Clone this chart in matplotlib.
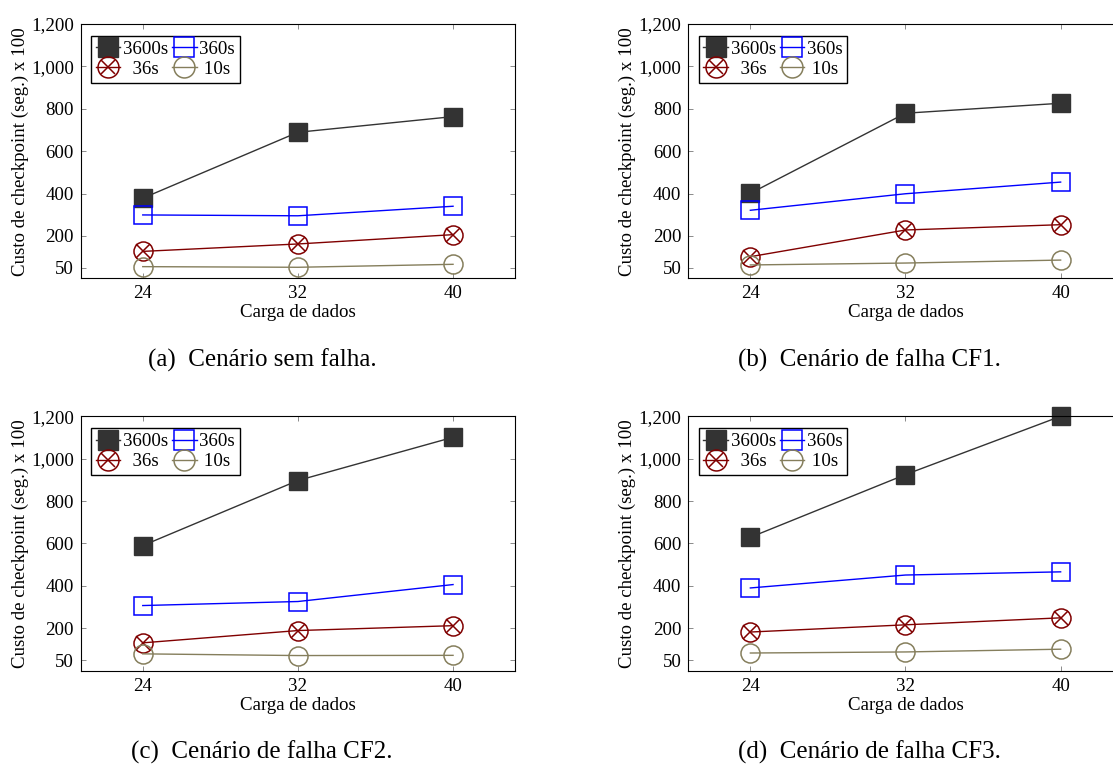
import matplotlib.pyplot as plt
from matplotlib.legend_handler import HandlerTuple
from matplotlib.ticker import FuncFormatter

plt.rcParams["font.family"] = ["Liberation Serif", "DejaVu Serif"]

carga = [24, 32, 40]
yticks = [50, 200, 400, 600, 800, 1000, 1200]
labels = ["3600s", "360s", "36s", "10s"]

# (a) Cenário sem falha
a_3600 = [378, 689, 763]
a_360 = [299, 295, 340]
a_36 = [127, 162, 206]
a_10 = [55, 52, 66]

# (b) Cenário de falha CF1
b_3600 = [401, 779, 826]
b_360 = [321, 399, 454]
b_36 = [102, 228, 253]
b_10 = [63, 72, 86]

# (c) Cenário de falha CF2
c_3600 = [590, 897, 1101]
c_360 = [307, 326, 406]
c_36 = [131, 189, 212]
c_10 = [79, 71, 72]

# (d) Cenário de falha CF3
d_3600 = [629, 925, 1200]
d_360 = [390, 451, 466]
d_36 = [182, 216, 249]
d_10 = [83, 88, 101]

captions = [
    "(a)  Cenário sem falha.",
    "(b)  Cenário de falha CF1.",
    "(c)  Cenário de falha CF2.",
    "(d)  Cenário de falha CF3.",
]

GRAY = "#333333"
BLUE = "#0000ff"
RED = "#800000"
OLIVE = "#857e5c"
FS = 13.6


def plot_panel(ax, s3600, s360, s36, s10):
    """
    draw one panel with the four checkpoint intervals
    """
    h1, = ax.plot(carga, s3600, color=GRAY, lw=1.0, marker="s", ms=12.6,
                  mfc=GRAY, mec=GRAY, clip_on=False)
    h2, = ax.plot(carga, s360, color=BLUE, lw=1.0, marker="s", ms=12.6,
                  mfc="none", mec=BLUE, mew=1.1, clip_on=False)
    h3a, = ax.plot(carga, s36, color=RED, lw=1.0, marker="o", ms=13.7,
                   mfc="none", mec=RED, mew=1.1, clip_on=False)
    h3b, = ax.plot(carga, s36, color=RED, ls="none", marker="x", ms=9.6,
                   mew=1.1, clip_on=False)
    h4, = ax.plot(carga, s10, color=OLIVE, lw=1.0, marker="o", ms=13.7,
                  mfc="none", mec=OLIVE, mew=1.1, clip_on=False)

    ax.set_xlim(20.8, 43.2)
    ax.set_ylim(0, 1200)
    ax.set_xticks(carga)
    ax.set_yticks(yticks)
    ax.yaxis.set_major_formatter(FuncFormatter(lambda v, p: f"{int(v):,}"))
    ax.tick_params(direction="in", length=3.6, width=0.6, color="#777777",
                   top=True, right=True, labelsize=FS, pad=5)
    for sp in ax.spines.values():
        sp.set_linewidth(0.8)
        sp.set_color("black")

    ax.set_xlabel("Carga de dados", fontsize=FS)
    ax.set_ylabel("Custo de checkpoint (seg.) x 100", fontsize=FS)
    ax.xaxis.set_label_coords(0.5, -0.103)
    ax.yaxis.set_label_coords(-0.120, 0.5)

    # ncol=2 fills by column, so order the handles for rows 3600s|360s, 36s|10s
    ax.legend([h1, (h3a, h3b), h2, h4],
              [labels[0], "  " + labels[2], labels[1], " " + labels[3]],
              handler_map={tuple: HandlerTuple(ndivide=1)},
              ncol=2, loc="upper left", bbox_to_anchor=(0.0237, 0.953),
              borderaxespad=0, fontsize=FS, fancybox=False, framealpha=1,
              edgecolor="black", borderpad=0.25, labelspacing=0.15,
              handlelength=1.3, handletextpad=0.15, columnspacing=0.2,
              markerscale=1.1)


fig = plt.figure(figsize=(11.13, 7.65), dpi=100)
W, H = 1113, 765
ax_w = 434.4 / W
ax_h = 254.3 / H
lefts = [80.7 / W, 688.3 / W]
bottoms = [1 - 278.3 / H, 1 - 670.6 / H]

series = [
    (a_3600, a_360, a_36, a_10),
    (b_3600, b_360, b_36, b_10),
    (c_3600, c_360, c_36, c_10),
    (d_3600, d_360, d_36, d_10),
]
cap_x = [262 / W, 869 / W]
cap_y = [1 - 360 / H, 1 - 752 / H]

for i, s in enumerate(series):
    row, col = divmod(i, 2)
    ax = fig.add_axes([lefts[col], bottoms[row], ax_w, ax_h])
    plot_panel(ax, *s)
    fig.text(cap_x[col], cap_y[row], captions[i], fontsize=18,
             ha="center", va="center")

fig.savefig("out.png", dpi=100)
